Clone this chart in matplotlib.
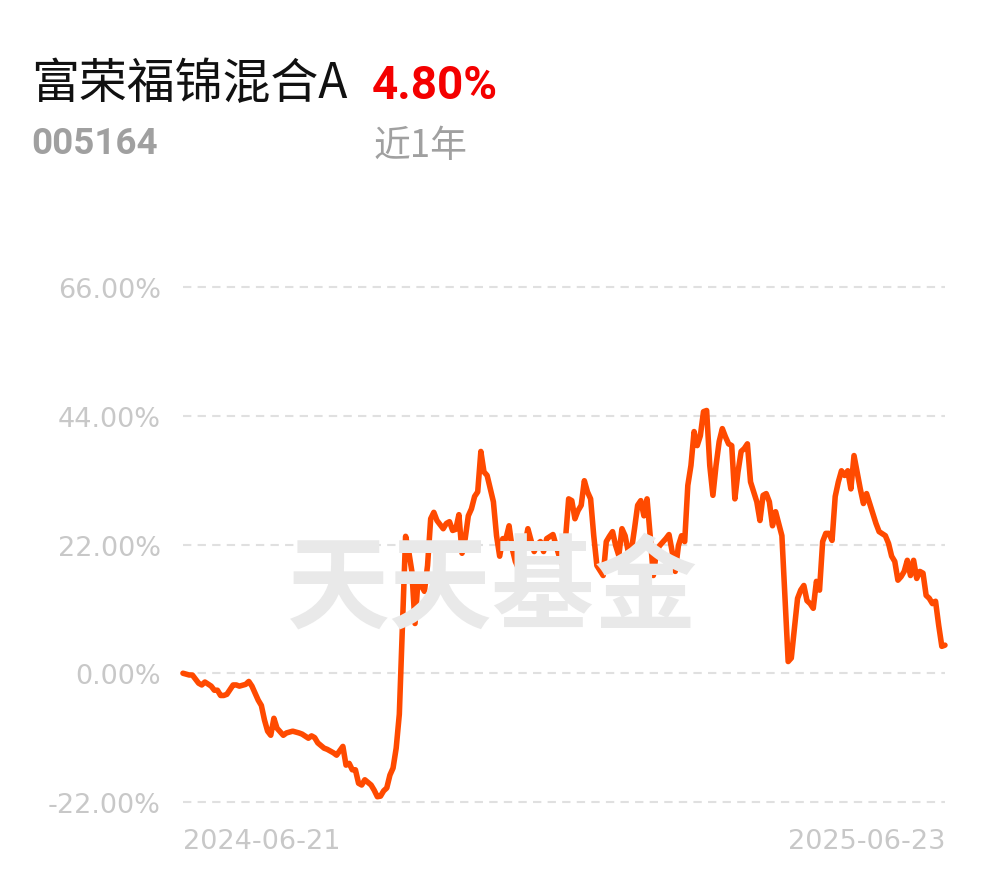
import matplotlib
matplotlib.use('Agg')
import matplotlib.pyplot as plt

# fund info
fund_name = '富荣福锦混合A'
fund_code = '005164'
period_label = '近1年'
period_return = '4.80%'
start_label = '2024-06-21'
end_label = '2025-06-23'

# trading-day index and cumulative return (%)
day = [0, 2, 3, 5, 6, 7, 9, 10, 11, 12, 13, 14, 16, 17, 18, 20, 21, 22, 24, 25,
       26, 27, 28, 29, 30, 32, 33, 35, 37, 38, 40, 41, 42, 43, 45, 46, 48, 49, 51, 52,
       53, 54, 55, 56, 57, 58, 60, 61, 62, 63, 64, 65, 66, 67, 68, 69, 70, 71, 72, 73,
       74, 75, 76, 77, 78, 79, 80, 81, 83, 84, 85, 86, 87, 88, 89, 90, 91, 92, 93, 94,
       95, 96, 97, 99, 100, 101, 102, 103, 104, 105, 106, 107, 108, 109, 110, 111, 112, 113, 114, 115,
       116, 118, 119, 120, 121, 122, 123, 124, 125, 126, 127, 128, 129, 130, 131, 132, 134, 135, 136, 137,
       138, 139, 140, 141, 142, 143, 144, 145, 146, 147, 148, 149, 150, 151, 152, 154, 155, 156, 157, 158,
       159, 160, 161, 162, 163, 164, 165, 166, 167, 168, 169, 170, 171, 172, 173, 174, 175, 176, 177, 178,
       179, 180, 181, 183, 184, 185, 186, 187, 188, 189, 191, 192, 193, 194, 195, 196, 197, 198, 199, 200,
       201, 202, 203, 204, 205, 206, 207, 208, 209, 210, 211, 212, 213, 214, 215, 216, 217, 218, 219, 220,
       221, 222, 224, 225, 226, 227, 228, 229, 230, 231, 232, 233, 234, 235, 236, 237, 238, 239, 240, 241,
       242, 243]
ret = [0.0, -0.3, -0.3, -1.7, -2.0, -1.5, -2.2, -2.9, -2.9, -3.8, -3.8, -3.6, -2.0, -2.0, -2.2, -1.9, -1.4, -2.2, -4.6, -5.5,
       -8.0, -9.9, -10.6, -7.7, -9.4, -10.6, -10.2, -9.9, -10.2, -10.4, -11.1, -10.7, -11.0, -11.9, -12.8, -13.0, -13.6, -14.0, -12.5, -15.7,
       -15.4, -16.5, -16.5, -18.8, -19.1, -18.2, -19.1, -20.0, -21.1, -21.0, -20.1, -19.6, -17.4, -16.2, -12.8, -7.0, 8.0, 23.4, 20.8, 17.4,
       8.5, 16.2, 15.0, 14.0, 18.4, 26.4, 27.5, 26.1, 24.7, 25.6, 25.9, 24.4, 24.6, 27.1, 20.5, 23.0, 26.9, 28.1, 30.2, 31.0,
       37.9, 34.4, 33.8, 29.3, 23.5, 20.0, 23.0, 23.0, 25.2, 21.3, 19.1, 17.9, 21.3, 21.8, 24.7, 22.7, 20.8, 22.0, 22.5, 20.8,
       23.0, 23.7, 21.8, 20.0, 18.6, 23.0, 29.8, 29.5, 26.4, 27.8, 28.7, 32.9, 31.0, 29.8, 23.5, 18.4, 16.7, 22.5, 23.4, 24.2,
       21.8, 20.1, 24.7, 23.5, 20.8, 21.0, 24.7, 28.7, 29.5, 26.9, 29.8, 23.5, 16.7, 20.8, 21.8, 23.0, 23.7, 20.8, 17.4, 21.8,
       23.5, 22.5, 32.1, 35.5, 41.3, 38.9, 40.6, 44.7, 44.9, 35.5, 30.4, 35.5, 39.6, 41.8, 40.4, 39.2, 38.9, 29.8, 34.4, 37.9,
       38.4, 39.2, 32.7, 29.3, 26.1, 30.4, 30.7, 29.3, 25.2, 27.6, 23.5, 12.8, 2.0, 2.6, 7.7, 12.8, 14.2, 15.0, 12.4, 11.9,
       11.1, 15.7, 14.2, 22.5, 23.9, 23.9, 22.7, 30.2, 32.7, 34.6, 33.8, 34.6, 31.5, 37.2, 34.4, 31.5, 29.0, 30.7, 29.0, 27.3,
       25.6, 24.2, 23.5, 22.2, 20.0, 19.1, 15.9, 16.5, 17.4, 19.3, 16.7, 19.3, 16.2, 17.4, 17.1, 13.3, 12.8, 11.9, 12.3, 8.2,
       4.6, 4.8]

yticks = [-22, 0, 22, 44, 66]
ytick_labels = ['-22.00%', '0.00%', '22.00%', '44.00%', '66.00%']

cjk = ['Noto Sans CJK SC', 'DejaVu Sans']

fig = plt.figure(figsize=(9.9, 8.78), dpi=100)
ax = fig.add_axes([0.1848, 0.0721, 0.7697, 0.6132])

# watermark
fig.text(0.497, 0.328, '天天基金', family=cjk, fontsize=74, fontweight='bold',
         color='#e9e9e9', ha='center', va='center', zorder=0)

ax.plot(day, ret, color='#ff4a00', linewidth=4.0, solid_joinstyle='round',
        solid_capstyle='round', zorder=3, clip_on=False)

ax.set_xlim(0, 243)
ax.set_ylim(-24, 68)
ax.set_yticks(yticks)
ax.set_yticklabels(ytick_labels)
ax.set_xticks([])
ax.grid(axis='y', linestyle=(0, (4, 3)), color='#e0e0e0', linewidth=1.5)
ax.tick_params(axis='y', length=0, pad=16, labelsize=19.5, labelcolor='#c8c8c8')
for s in ax.spines.values():
    s.set_visible(False)
ax.patch.set_alpha(0)

ax.text(0, -0.051, start_label, transform=ax.get_xaxis_transform(), ha='left', va='center',
        fontsize=19.5, color='#c8c8c8')
ax.text(243, -0.051, end_label, transform=ax.get_xaxis_transform(), ha='right', va='center',
        fontsize=19.5, color='#c8c8c8')

# header
fig.text(0.031, 0.904, fund_name, family=cjk, fontsize=34.5, color='#111111', va='center')
fig.text(0.376, 0.902, period_return, family='Roboto', fontweight='bold', fontsize=33,
         color='#f40000', va='center')
fig.text(0.032, 0.836, fund_code, family='Roboto', fontweight='bold', fontsize=26.5,
         color='#a0a0a0', va='center')
fig.text(0.377, 0.833, period_label, family=cjk, fontsize=26.5, color='#a0a0a0', va='center')

fig.savefig('out.png', dpi=100, facecolor='white')
